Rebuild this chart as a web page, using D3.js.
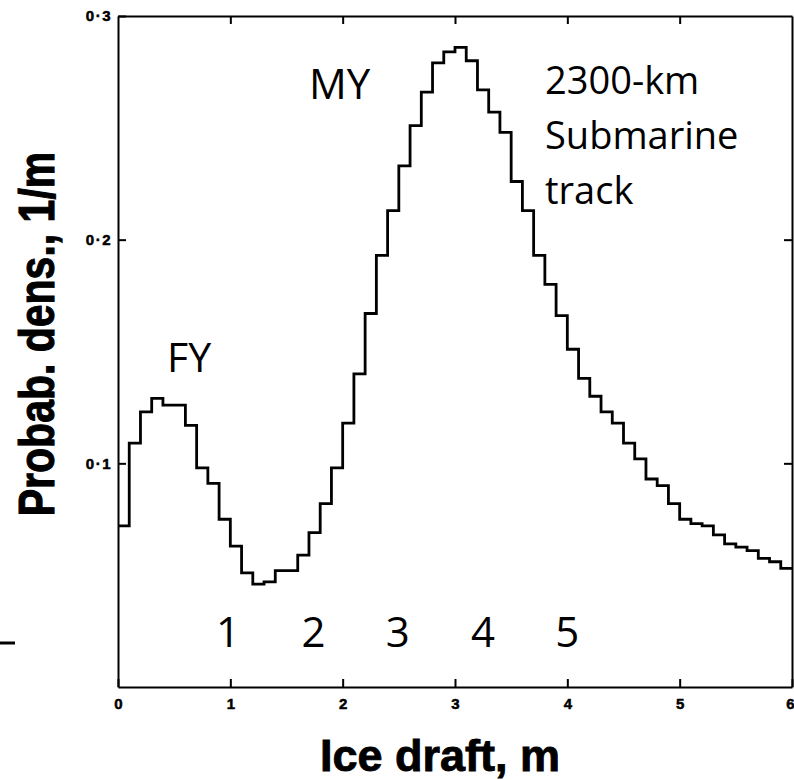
<!DOCTYPE html>
<html>
<head>
<meta charset="utf-8">
<script src="https://cdn.jsdelivr.net/npm/d3@7"></script>
<style>
  html, body { margin: 0; padding: 0; background: #fff; }
  svg { display: block; }
  .axis text { font-family: "Liberation Sans", Arial, sans-serif; font-weight: bold; font-size: 15px; fill: #000; stroke: #000; stroke-width: 0.5; }
  .axis path, .axis line { stroke: #000; stroke-width: 2; }
  .note { font-family: "Open Sans", sans-serif; fill: #000; }
  .title { font-family: "Liberation Sans", Arial, sans-serif; font-weight: bold; fill: #000; stroke: #000; stroke-width: 0.9; }
</style>
</head>
<body>
<div id="chart"></div>
<script>
// bin starts, m (0.1 m bins)
const binStart = [
  0.0, 0.1, 0.2, 0.3, 0.4, 0.5, 0.6, 0.7, 0.8, 0.9,
  1.0, 1.1, 1.2, 1.3, 1.4, 1.5, 1.6, 1.7, 1.8, 1.9,
  2.0, 2.1, 2.2, 2.3, 2.4, 2.5, 2.6, 2.7, 2.8, 2.9,
  3.0, 3.1, 3.2, 3.3, 3.4, 3.5, 3.6, 3.7, 3.8, 3.9,
  4.0, 4.1, 4.2, 4.3, 4.4, 4.5, 4.6, 4.7, 4.8, 4.9,
  5.0, 5.1, 5.2, 5.3, 5.4, 5.5, 5.6, 5.7, 5.8, 5.9
];
const binEnd = 6.0;

// probability density, 1/m
const density = [
  0.072, 0.109, 0.123, 0.129, 0.126, 0.126, 0.117, 0.098, 0.091, 0.075,
  0.063, 0.051, 0.046, 0.047, 0.052, 0.052, 0.059, 0.069, 0.082, 0.098,
  0.118, 0.140, 0.167, 0.193, 0.213, 0.233, 0.251, 0.266, 0.279, 0.284,
  0.286, 0.280, 0.267, 0.257, 0.248, 0.226, 0.213, 0.193, 0.180, 0.166,
  0.151, 0.138, 0.130, 0.123, 0.118, 0.109, 0.102, 0.093, 0.090, 0.082,
  0.075, 0.073, 0.072, 0.068, 0.064, 0.0625, 0.061, 0.0575, 0.056, 0.053
];

const xTicks = [0, 1, 2, 3, 4, 5, 6];
const yTicks = [0.1, 0.2, 0.3];

const numberLabels = ["1", "2", "3", "4", "5"];
const numberLabelX = [0.98, 1.74, 2.49, 3.25, 4.0];   // in draft units
const trackLines = ["2300-km", "Submarine", "track"];

const width = 794;
const height = 780;
const margin = { top: 16, right: 2, bottom: 93, left: 118 };

const x = d3.scaleLinear()
    .domain([0, 6])
    .range([margin.left, width - margin.right]);

const y = d3.scaleLinear()
    .domain([0, 0.3])
    .range([height - margin.bottom, margin.top]);

const svg = d3.create("svg")
    .attr("width", width)
    .attr("height", height)
    .attr("viewBox", [0, 0, width, height]);

d3.select("#chart").append(() => svg.node());

const fmt = d => d3.format(".1f")(d).replace(".", "\u00b7");

// frame + inward ticks
svg.append("g")
    .attr("class", "axis")
    .attr("transform", `translate(0,${y(0)})`)
    .call(d3.axisBottom(x).tickValues(xTicks).tickFormat(d3.format("d"))
        .tickSizeInner(-8).tickSizeOuter(0).tickPadding(11))
    .call(g => g.selectAll(".tick:last-of-type text")
        .attr("text-anchor", "end").attr("x", 2));

svg.append("g")
    .attr("class", "axis")
    .attr("transform", `translate(0,${y(0.3)})`)
    .call(d3.axisTop(x).tickValues([1, 2, 3, 4, 5]).tickFormat("")
        .tickSizeInner(-8).tickSizeOuter(0));

svg.append("g")
    .attr("class", "axis")
    .attr("transform", `translate(${x(0)},0)`)
    .call(d3.axisLeft(y).tickValues(yTicks).tickFormat(fmt)
        .tickSizeInner(-8).tickSizeOuter(0).tickPadding(6))
    .call(g => g.selectAll("text").attr("letter-spacing", 1.5));

svg.append("g")
    .attr("class", "axis")
    .attr("transform", `translate(${x(6)},0)`)
    .call(d3.axisRight(y).tickValues([0.1, 0.2]).tickFormat("")
        .tickSizeInner(-8).tickSizeOuter(0));

// histogram as a step line
const pts = binStart.map((b, i) => [b, density[i]]);
pts.push([binEnd, density[density.length - 1]]);

const line = d3.line()
    .x(d => x(d[0]))
    .y(d => y(d[1]))
    .curve(d3.curveStepAfter);

svg.append("path")
    .datum(pts)
    .attr("fill", "none")
    .attr("stroke", "#000")
    .attr("stroke-width", 2.8)
    .attr("d", line);

// annotations
svg.append("text").attr("class", "note")
    .attr("x", 309).attr("y", 99)
    .attr("font-size", 42)
    .text("MY");

svg.append("text").attr("class", "note")
    .attr("x", 167).attr("y", 372)
    .attr("font-size", 41)
    .text("FY");

svg.append("g")
    .selectAll("text")
    .data(trackLines)
    .join("text")
    .attr("class", "note")
    .attr("x", 545)
    .attr("y", (d, i) => 94 + i * 55)
    .attr("font-size", 38)
    .text(d => d);

svg.append("g")
    .selectAll("text")
    .data(numberLabels)
    .join("text")
    .attr("class", "note")
    .attr("x", (d, i) => x(numberLabelX[i]))
    .attr("y", 647)
    .attr("text-anchor", "middle")
    .attr("font-size", 42)
    .text(d => d);

// stray dash at left edge
svg.append("line")
    .attr("x1", 0).attr("x2", 15)
    .attr("y1", 643).attr("y2", 643)
    .attr("stroke", "#000")
    .attr("stroke-width", 3);

// axis titles
svg.append("text")
    .attr("class", "title")
    .attr("x", 440)
    .attr("y", 771)
    .attr("text-anchor", "middle")
    .attr("font-size", 45)
    .text("Ice draft, m");

svg.append("text")
    .attr("class", "title")
    .attr("transform", "translate(54,334) rotate(-90) scale(1,1.22)")
    .attr("text-anchor", "middle")
    .attr("font-size", 41)
    .text("Probab. dens., 1/m");
</script>
</body>
</html>
